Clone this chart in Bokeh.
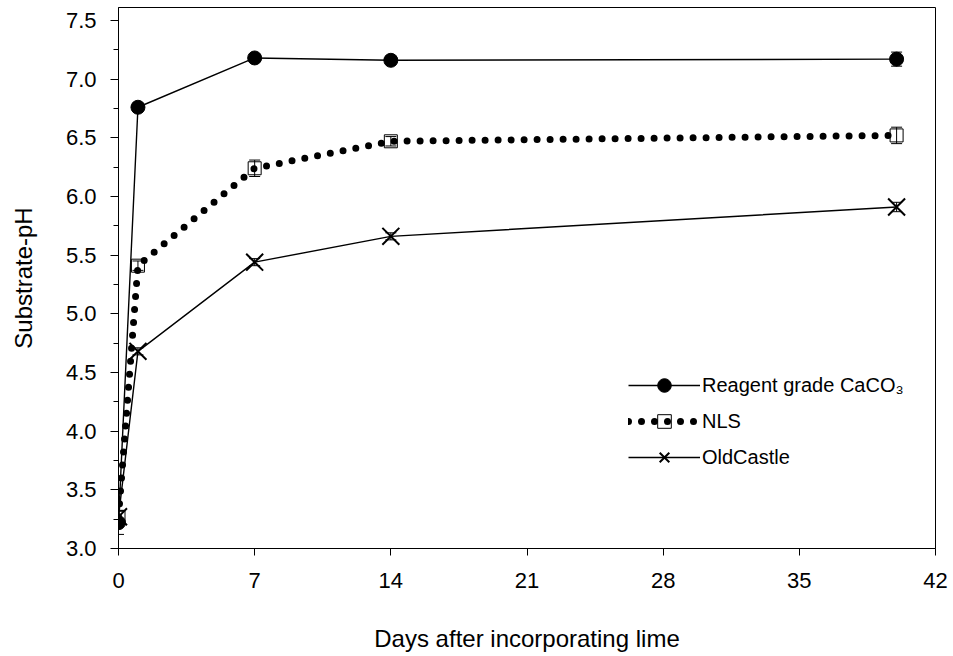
from bokeh.plotting import figure
from bokeh.models import (ColumnDataSource, Whisker, TeeHead, Legend, LegendItem,
                          FixedTicker, SingleIntervalTicker, Range1d, NumeralTickFormatter)
from bokeh.embed import file_html
from bokeh.resources import INLINE

# ---- data ----
days = [0, 1, 7, 14, 40]
reagent_ph = [3.22, 6.76, 7.18, 7.16, 7.17]
reagent_err = [0.10, 0.03, 0.03, 0.03, 0.06]
nls_ph = [3.27, 5.41, 6.24, 6.47, 6.52]
nls_err = [0.05, 0.04, 0.07, 0.04, 0.07]
old_ph = [3.27, 4.68, 5.44, 5.66, 5.91]
old_err = [0.05, 0.03, 0.03, 0.03, 0.04]
x_ticks = [0, 7, 14, 21, 28, 35, 42]
series_names = ["Reagent grade CaCO\u2083", "NLS", "OldCastle"]

FONT = "Liberation Sans"

p = figure(width=953, height=656, output_backend="svg", toolbar_location=None,
           x_range=Range1d(0, 42), y_range=Range1d(3.0, 7.61))
p.min_border_left = 118
p.min_border_right = 18
p.min_border_top = 7
p.min_border_bottom = 108
p.outline_line_color = "black"
p.outline_line_width = 1
p.xgrid.visible = False
p.ygrid.visible = False
p.background_fill_color = "white"
p.border_fill_color = "white"

# axes
p.xaxis.ticker = FixedTicker(ticks=x_ticks)
p.xaxis.major_tick_out = 7
p.xaxis.major_tick_in = 0
p.xaxis.minor_tick_out = 0
p.xaxis.minor_tick_in = 0
p.xaxis.major_label_standoff = 17
p.xaxis.axis_label = "Days after incorporating lime"
p.xaxis.axis_label_standoff = 34

p.yaxis.ticker = SingleIntervalTicker(interval=0.5, num_minor_ticks=2)
p.yaxis.formatter = NumeralTickFormatter(format="0.0")
p.yaxis.major_tick_out = 8
p.yaxis.major_tick_in = 0
p.yaxis.minor_tick_out = 5
p.yaxis.minor_tick_in = 0
p.yaxis.major_label_standoff = 14
p.yaxis.axis_label = "Substrate-pH"
p.yaxis.axis_label_standoff = 26

for ax in (p.xaxis[0], p.yaxis[0]):
    ax.axis_line_color = "black"
    ax.major_tick_line_color = "black"
    ax.minor_tick_line_color = "black"
    ax.major_label_text_font = FONT
    ax.major_label_text_font_size = "22px"
    ax.major_label_text_color = "black"
    ax.axis_label_text_font = FONT
    ax.axis_label_text_font_size = "24px"
    ax.axis_label_text_font_style = "normal"
    ax.axis_label_text_color = "black"

src_r = ColumnDataSource(dict(x=days, y=reagent_ph,
                              lo=[a - b for a, b in zip(reagent_ph, reagent_err)],
                              hi=[a + b for a, b in zip(reagent_ph, reagent_err)]))
src_n = ColumnDataSource(dict(x=days, y=nls_ph,
                              lo=[a - b for a, b in zip(nls_ph, nls_err)],
                              hi=[a + b for a, b in zip(nls_ph, nls_err)]))
src_o = ColumnDataSource(dict(x=days, y=old_ph,
                              lo=[a - b for a, b in zip(old_ph, old_err)],
                              hi=[a + b for a, b in zip(old_ph, old_err)]))

# error bars
for src in (src_r, src_n, src_o):
    w = Whisker(source=src, base="x", upper="hi", lower="lo",
                line_color="black", line_width=1,
                upper_head=TeeHead(size=11, line_color="black", line_width=1),
                lower_head=TeeHead(size=11, line_color="black", line_width=1))
    p.add_layout(w)

# lines
l_r = p.line("x", "y", source=src_r, line_color="black", line_width=1.4)
l_o = p.line("x", "y", source=src_o, line_color="black", line_width=1.4)
m_n = p.scatter("x", "y", source=src_n, marker="square", size=13,
                line_color="black", line_width=1, fill_alpha=0)
l_n = p.line("x", "y", source=src_n, line_color="black", line_width=7,
             line_dash="0 13", line_cap="round")

# markers
m_r = p.scatter("x", "y", source=src_r, marker="circle", size=14,
                line_color="black", fill_color="black")
m_o = p.scatter("x", "y", source=src_o, marker="x", size=24,
                line_color="black", line_width=2)

legend = Legend(items=[
    LegendItem(label=series_names[0], renderers=[l_r, m_r]),
    LegendItem(label=series_names[1], renderers=[l_n, m_n]),
    LegendItem(label=series_names[2], renderers=[l_o, m_o]),
], location=(510, 74))
legend.glyph_width = 72
legend.glyph_height = 34
legend.spacing = 2
legend.padding = 0
legend.margin = 0
legend.label_standoff = 2
legend.label_text_font = FONT
legend.label_text_font_size = "20px"
legend.label_text_color = "black"
legend.border_line_color = None
legend.background_fill_alpha = 0
p.add_layout(legend)

open("out.html", "w").write(file_html(p, INLINE))
